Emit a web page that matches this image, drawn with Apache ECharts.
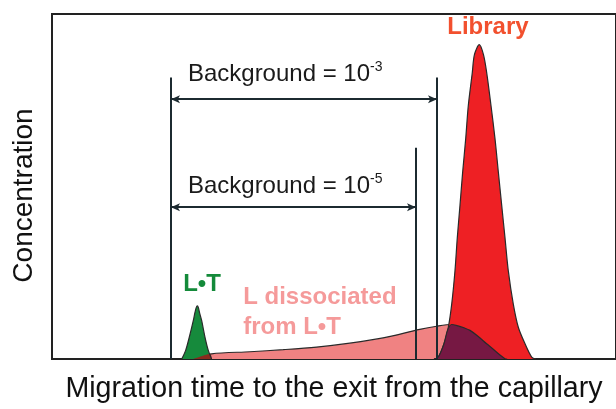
<!DOCTYPE html>
<html><head><meta charset="utf-8">
<script src="https://cdn.jsdelivr.net/npm/echarts@6/dist/echarts.min.js"></script>
<style>html,body{margin:0;padding:0;background:#fff}#c{width:616px;height:409px}</style>
</head><body><div id="c"></div>
<script>
// L•T complex peak (green)
const ltX = [23.0, 23.7, 24.34, 25.05, 25.35, 25.57, 25.76, 25.96, 26.15, 26.54, 27.13, 27.71, 28.3];
const ltY = [0, 2.5, 6.3, 11.1, 13.5, 14.9, 15.4, 14.9, 13.5, 11.1, 6.3, 2.5, 0];
// small overlap of dissociated L under the L•T peak
const ltOvX = [25.0, 26.5, 27.5, 28.1, 28.3];
const ltOvY = [0, 0.8, 1.3, 1.5, 0];
// Library peak (red)
const libX = [67.73, 68.49, 69.50, 70.27, 70.87, 71.45, 71.86, 72.34, 72.82, 73.35, 73.81, 74.52, 74.9, 75.76, 76.5, 77.07, 77.84, 78.55, 79.13, 79.73, 80.32, 80.90, 81.79, 82.68, 83.87, 85.05, 85.82];
const libY = [0, 0.57, 4.4, 9.2, 15.9, 25.6, 35.1, 44.6, 54.3, 63.8, 73.4, 83.0, 88.2, 91.1, 88.2, 83.0, 73.4, 63.8, 54.3, 44.6, 35.1, 25.6, 15.9, 9.2, 4.4, 0.57, 0];
// L dissociated from L•T (pink)
const pinkX = [25.0, 28.3, 35.1, 41.0, 46.9, 52.8, 58.7, 65.2, 68.2, 70.87, 72.0, 74.1, 75.5, 77.07, 78.2, 79.43, 80.7];
const pinkY = [0, 1.5, 2.1, 2.7, 3.45, 4.6, 6.1, 8.6, 9.5, 10.0, 9.6, 8.3, 6.6, 4.4, 2.9, 1.15, 0];
// overlap of dissociated L with the library peak (dark)
const ovX = [67.73, 68.49, 69.50, 70.12, 70.87, 71.99, 73.05, 74.11, 75.53, 77.07, 78.19, 79.43, 80.32, 80.7];
const ovY = [0, 0.57, 4.4, 8.3, 10.0, 9.6, 9.05, 8.3, 6.6, 4.4, 2.9, 1.15, 0.1, 0];
// background windows
const bgStart = 21.1;
const bgEnds = [68.26, 64.54];
const bgTops = [81.6, 61.2];
const bgArrowY = [75.3, 44.0];
// annotation texts
const labelTexts = ['Background = 10{sup|-3}', 'Background = 10{sup|-5}', 'Library', 'L•T', 'L dissociated\nfrom L•T'];
const labelX = [24.1, 24.1, 77.3, 26.6, 33.9];
const labelY = [82.5, 50.0, 96.0, 21.6, 13.5];
const xTitle = 'Migration time to the exit from the capillary';
const yTitle = 'Concentration';

const zip = (a, b) => a.map((v, i) => [v, b[i]]);
const FONT = '"Liberation Sans", Arial, sans-serif';
const labelStyles = [
  { color: '#1a1a1a', fontSize: 24, fontWeight: 'normal', align: 'left' },
  { color: '#1a1a1a', fontSize: 24, fontWeight: 'normal', align: 'left' },
  { color: '#f2502e', fontSize: 24, fontWeight: 'bold', align: 'center' },
  { color: '#148a3a', fontSize: 24, fontWeight: 'bold', align: 'center' },
  { color: '#f59a9a', fontSize: 24, fontWeight: 'bold', align: 'left', lineHeight: 30 }
];

const chart = echarts.init(document.getElementById('c'), null, { renderer: 'canvas' });
const vLines = [[bgStart, bgTops[0]], [bgEnds[0], bgTops[0]], [bgEnds[1], bgTops[1]]];
const area = (name, xs, ys, color, z, lw) => ({
  name, type: 'line', data: zip(xs, ys), smooth: 0.3, symbol: 'none',
  lineStyle: { color: '#2a2a2a', width: lw === undefined ? 1.2 : lw },
  areaStyle: { color, opacity: 1 }, z
});

chart.setOption({
  backgroundColor: '#ffffff',
  animation: false,
  textStyle: { fontFamily: FONT },
  grid: { left: 52, right: -5, top: 14, bottom: 47, show: true, borderColor: '#222', borderWidth: 2 },
  xAxis: {
    type: 'value', min: 0, max: 100,
    axisLine: { show: false }, axisTick: { show: false }, axisLabel: { show: false }, splitLine: { show: false },
    name: xTitle, nameLocation: 'middle', nameGap: 16,
    nameTextStyle: { fontSize: 28.6, color: '#111', fontFamily: FONT }
  },
  yAxis: {
    type: 'value', min: 0, max: 100,
    axisLine: { show: false }, axisTick: { show: false }, axisLabel: { show: false }, splitLine: { show: false },
    name: yTitle, nameLocation: 'middle', nameGap: 14,
    nameTextStyle: { fontSize: 28, color: '#111', fontFamily: FONT, padding: [0, 18, 0, 0] }
  },
  series: [
    area('dissociated', pinkX, pinkY, '#f08282', 2),
    area('Library', libX, libY, '#ee2024', 3),
    area('overlap', ovX, ovY, '#761843', 4),
    area('L•T', ltX, ltY, '#168a3c', 5),
    area('L•T overlap', ltOvX, ltOvY, '#8a2a1e', 5, 0),
    { name: 'windows', type: 'line', data: [], z: 6, silent: true,
      markLine: {
        silent: true, animation: false,
        label: { show: false },
        data: [
          ...vLines.map(v => [{ coord: [v[0], 0], symbol: 'none' }, { coord: [v[0], v[1]], symbol: 'none' }]),
          ...bgEnds.map((e, i) => [{ coord: [bgStart, bgArrowY[i]], symbol: 'arrow', symbolSize: [6, 9] }, { coord: [e, bgArrowY[i]], symbol: 'arrow', symbolSize: [6, 9] }])
        ],
        lineStyle: { color: '#1c2a30', width: 2, type: 'solid' }
      }
    },
    { name: 'labels', type: 'scatter', symbolSize: 0, z: 7, silent: true,
      itemStyle: { opacity: 1 },
      data: labelTexts.map((t, i) => ({
        value: [labelX[i], labelY[i]],
        label: {
          show: true, position: labelStyles[i].align === 'left' ? 'right' : 'inside', distance: 0,
          formatter: t, opacity: 1,
          color: labelStyles[i].color, fontSize: labelStyles[i].fontSize, fontWeight: labelStyles[i].fontWeight,
          fontFamily: FONT, align: labelStyles[i].align, verticalAlign: 'middle',
          lineHeight: labelStyles[i].lineHeight || 28,
          rich: { sup: { fontSize: 14, color: '#1a1a1a', verticalAlign: 'top', lineHeight: 14, padding: [0, 0, 12, 0] } }
        }
      }))
    }
  ]
});
</script></body></html>
